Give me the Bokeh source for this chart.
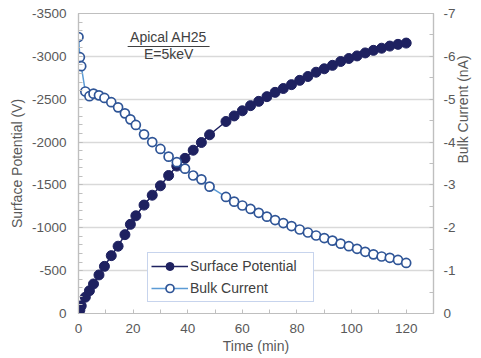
import math

from bokeh.plotting import figure
from bokeh.models import (Range1d, LinearAxis, FixedTicker, Legend, LegendItem,
                          CustomJSTickFormatter)
from bokeh.embed import file_html
from bokeh.resources import INLINE
from bokeh.core.properties import value

# Sampling times (min), shared by both series
time_min = [0, 0.5, 1, 2.5, 4, 5.5, 7.5, 9.5, 12, 14.5, 17, 19, 21, 24, 27, 30,
            33, 36, 39, 42, 45, 48, 54, 57, 60, 63, 66, 69, 72, 75, 78, 81, 84,
            87, 90, 93, 96, 99, 102, 105, 108, 111, 114, 117, 120]

# Surface potential (V)
surface_potential_v = [0, -40, -90, -190, -265, -345, -450, -550, -675, -785,
                       -920, -1040, -1140, -1265, -1380, -1490, -1610, -1720,
                       -1810, -1905, -1995, -2085, -2240, -2305, -2365, -2425,
                       -2475, -2530, -2580, -2625, -2670, -2720, -2765, -2815,
                       -2855, -2895, -2940, -2975, -3005, -3040, -3070, -3095,
                       -3120, -3140, -3155]

# Bulk current (nA)
bulk_current_na = [-6.45, -5.98, -5.77, -5.18, -5.07, -5.13, -5.09, -5.03,
                   -4.93, -4.81, -4.67, -4.53, -4.40, -4.18, -4.00, -3.84,
                   -3.66, -3.53, -3.38, -3.22, -3.13, -2.96, -2.72, -2.61,
                   -2.52, -2.44, -2.35, -2.26, -2.18, -2.11, -2.04, -1.96,
                   -1.89, -1.82, -1.76, -1.70, -1.63, -1.57, -1.51, -1.44,
                   -1.38, -1.33, -1.30, -1.25, -1.18]

x_ticks = [0, 20, 40, 60, 80, 100, 120]
x_minor = [10, 30, 50, 70, 90, 110, 130]
v_ticks = [0, -500, -1000, -1500, -2000, -2500, -3000, -3500]
i_ticks = [0, -1, -2, -3, -4, -5, -6, -7]

note_title = "Apical AH25"
note_sub = "E=5keV"

FONT = "Liberation Sans"
AXIS_GRAY = "#595959"
FRAME_GRAY = "#BFBFBF"
NAVY = "#1E2160"
BLUE_LINE = "#5B9BD5"
BLUE_EDGE = "#2F5597"

# plain hyphen-minus in tick labels
plain_fmt = "return String(tick);"

p = figure(width=481, height=358, output_backend="svg", toolbar_location=None,
           x_range=Range1d(0, 130), y_range=Range1d(0, -3500),
           min_border_left=78, min_border_right=48,
           min_border_top=13, min_border_bottom=45)
p.extra_y_ranges = {"cur": Range1d(0, -7)}
p.background_fill_color = "white"
p.border_fill_color = "white"
p.outline_line_color = FRAME_GRAY
p.outline_line_width = 1.2

p.xgrid.visible = False
p.ygrid.grid_line_color = "#D9D9D9"
p.ygrid.grid_line_width = 1.5


def style_axis(ax, label):
    ax.axis_label = label
    ax.axis_label_text_font = FONT
    ax.axis_label_text_font_size = "14px"
    ax.axis_label_text_font_style = "normal"
    ax.axis_label_text_color = AXIS_GRAY
    ax.major_label_text_font = FONT
    ax.major_label_text_font_size = "13.5px"
    ax.major_label_text_color = AXIS_GRAY
    ax.axis_line_color = FRAME_GRAY
    ax.axis_line_width = 1.2
    ax.major_tick_line_color = FRAME_GRAY
    ax.minor_tick_line_color = FRAME_GRAY
    ax.major_tick_out = 0
    ax.major_tick_in = 4
    ax.minor_tick_out = 0
    ax.minor_tick_in = 4
    ax.formatter = CustomJSTickFormatter(code=plain_fmt)


xa = p.xaxis[0]
style_axis(xa, "Time (min)")
xa.ticker = FixedTicker(ticks=x_ticks, minor_ticks=x_minor)
xa.major_label_standoff = 10
xa.axis_label_standoff = 2

ya = p.yaxis[0]
style_axis(ya, "Surface Potential (V)")
ya.ticker = FixedTicker(ticks=v_ticks,
                        minor_ticks=list(range(0, -3501, -100)))
ya.major_label_standoff = 12
ya.axis_label_standoff = 4

ra = LinearAxis(y_range_name="cur",
                ticker=FixedTicker(ticks=i_ticks,
                                   minor_ticks=[-0.5 - k for k in range(7)]))
style_axis(ra, "Bulk Current (nA)")
ra.major_label_standoff = 10
ra.axis_label_standoff = 4
ra.axis_label_orientation = math.pi / 2
p.add_layout(ra, "right")

# Bulk current: light blue line with open circles
bc_line = p.line(time_min, bulk_current_na, y_range_name="cur",
                 line_color=BLUE_LINE, line_width=1.5)

# Surface potential: navy line with filled circles
sp_line = p.line(time_min, surface_potential_v, line_color=NAVY, line_width=1.5)
sp_pts = p.scatter(time_min, surface_potential_v, marker="circle", size=10,
                   fill_color=NAVY, line_color=NAVY, line_width=1)

bc_pts = p.scatter(time_min, bulk_current_na, y_range_name="cur",
                   marker="circle", size=9, fill_color="white",
                   line_color=BLUE_EDGE, line_width=1.7)

# Sample note, underlined title
note_x = 33
note_y_title = -3225
note_y_sub = -3030
p.text(x=[note_x], y=[note_y_title], text=[note_title],
       text_font=value(FONT), text_font_size="14px", text_color="#404040",
       text_align="center", text_baseline="middle")
p.text(x=[note_x], y=[note_y_sub], text=[note_sub],
       text_font=value(FONT), text_font_size="14px", text_color="#404040",
       text_align="center", text_baseline="middle")
ul_half = 15  # half width of the title in minutes
p.segment(x0=[note_x - ul_half], y0=[note_y_title + 110],
          x1=[note_x + ul_half], y1=[note_y_title + 110],
          line_color="#404040", line_width=1.2)

legend = Legend(items=[LegendItem(label="Surface Potential",
                                  renderers=[sp_line, sp_pts]),
                       LegendItem(label="Bulk Current",
                                  renderers=[bc_line, bc_pts])],
                location=(69, 11))
legend.label_text_font = FONT
legend.label_text_font_size = "14px"
legend.label_text_color = "#404040"
legend.border_line_color = "#8FAADC"
legend.border_line_width = 1.2
legend.background_fill_color = "white"
legend.background_fill_alpha = 1
legend.padding = 3
legend.spacing = 2
legend.margin = 0
legend.glyph_width = 37
legend.glyph_height = 20
legend.label_height = 20
legend.label_width = 120
legend.label_standoff = 2
p.add_layout(legend)

open("out.html", "w").write(file_html(p, INLINE))
